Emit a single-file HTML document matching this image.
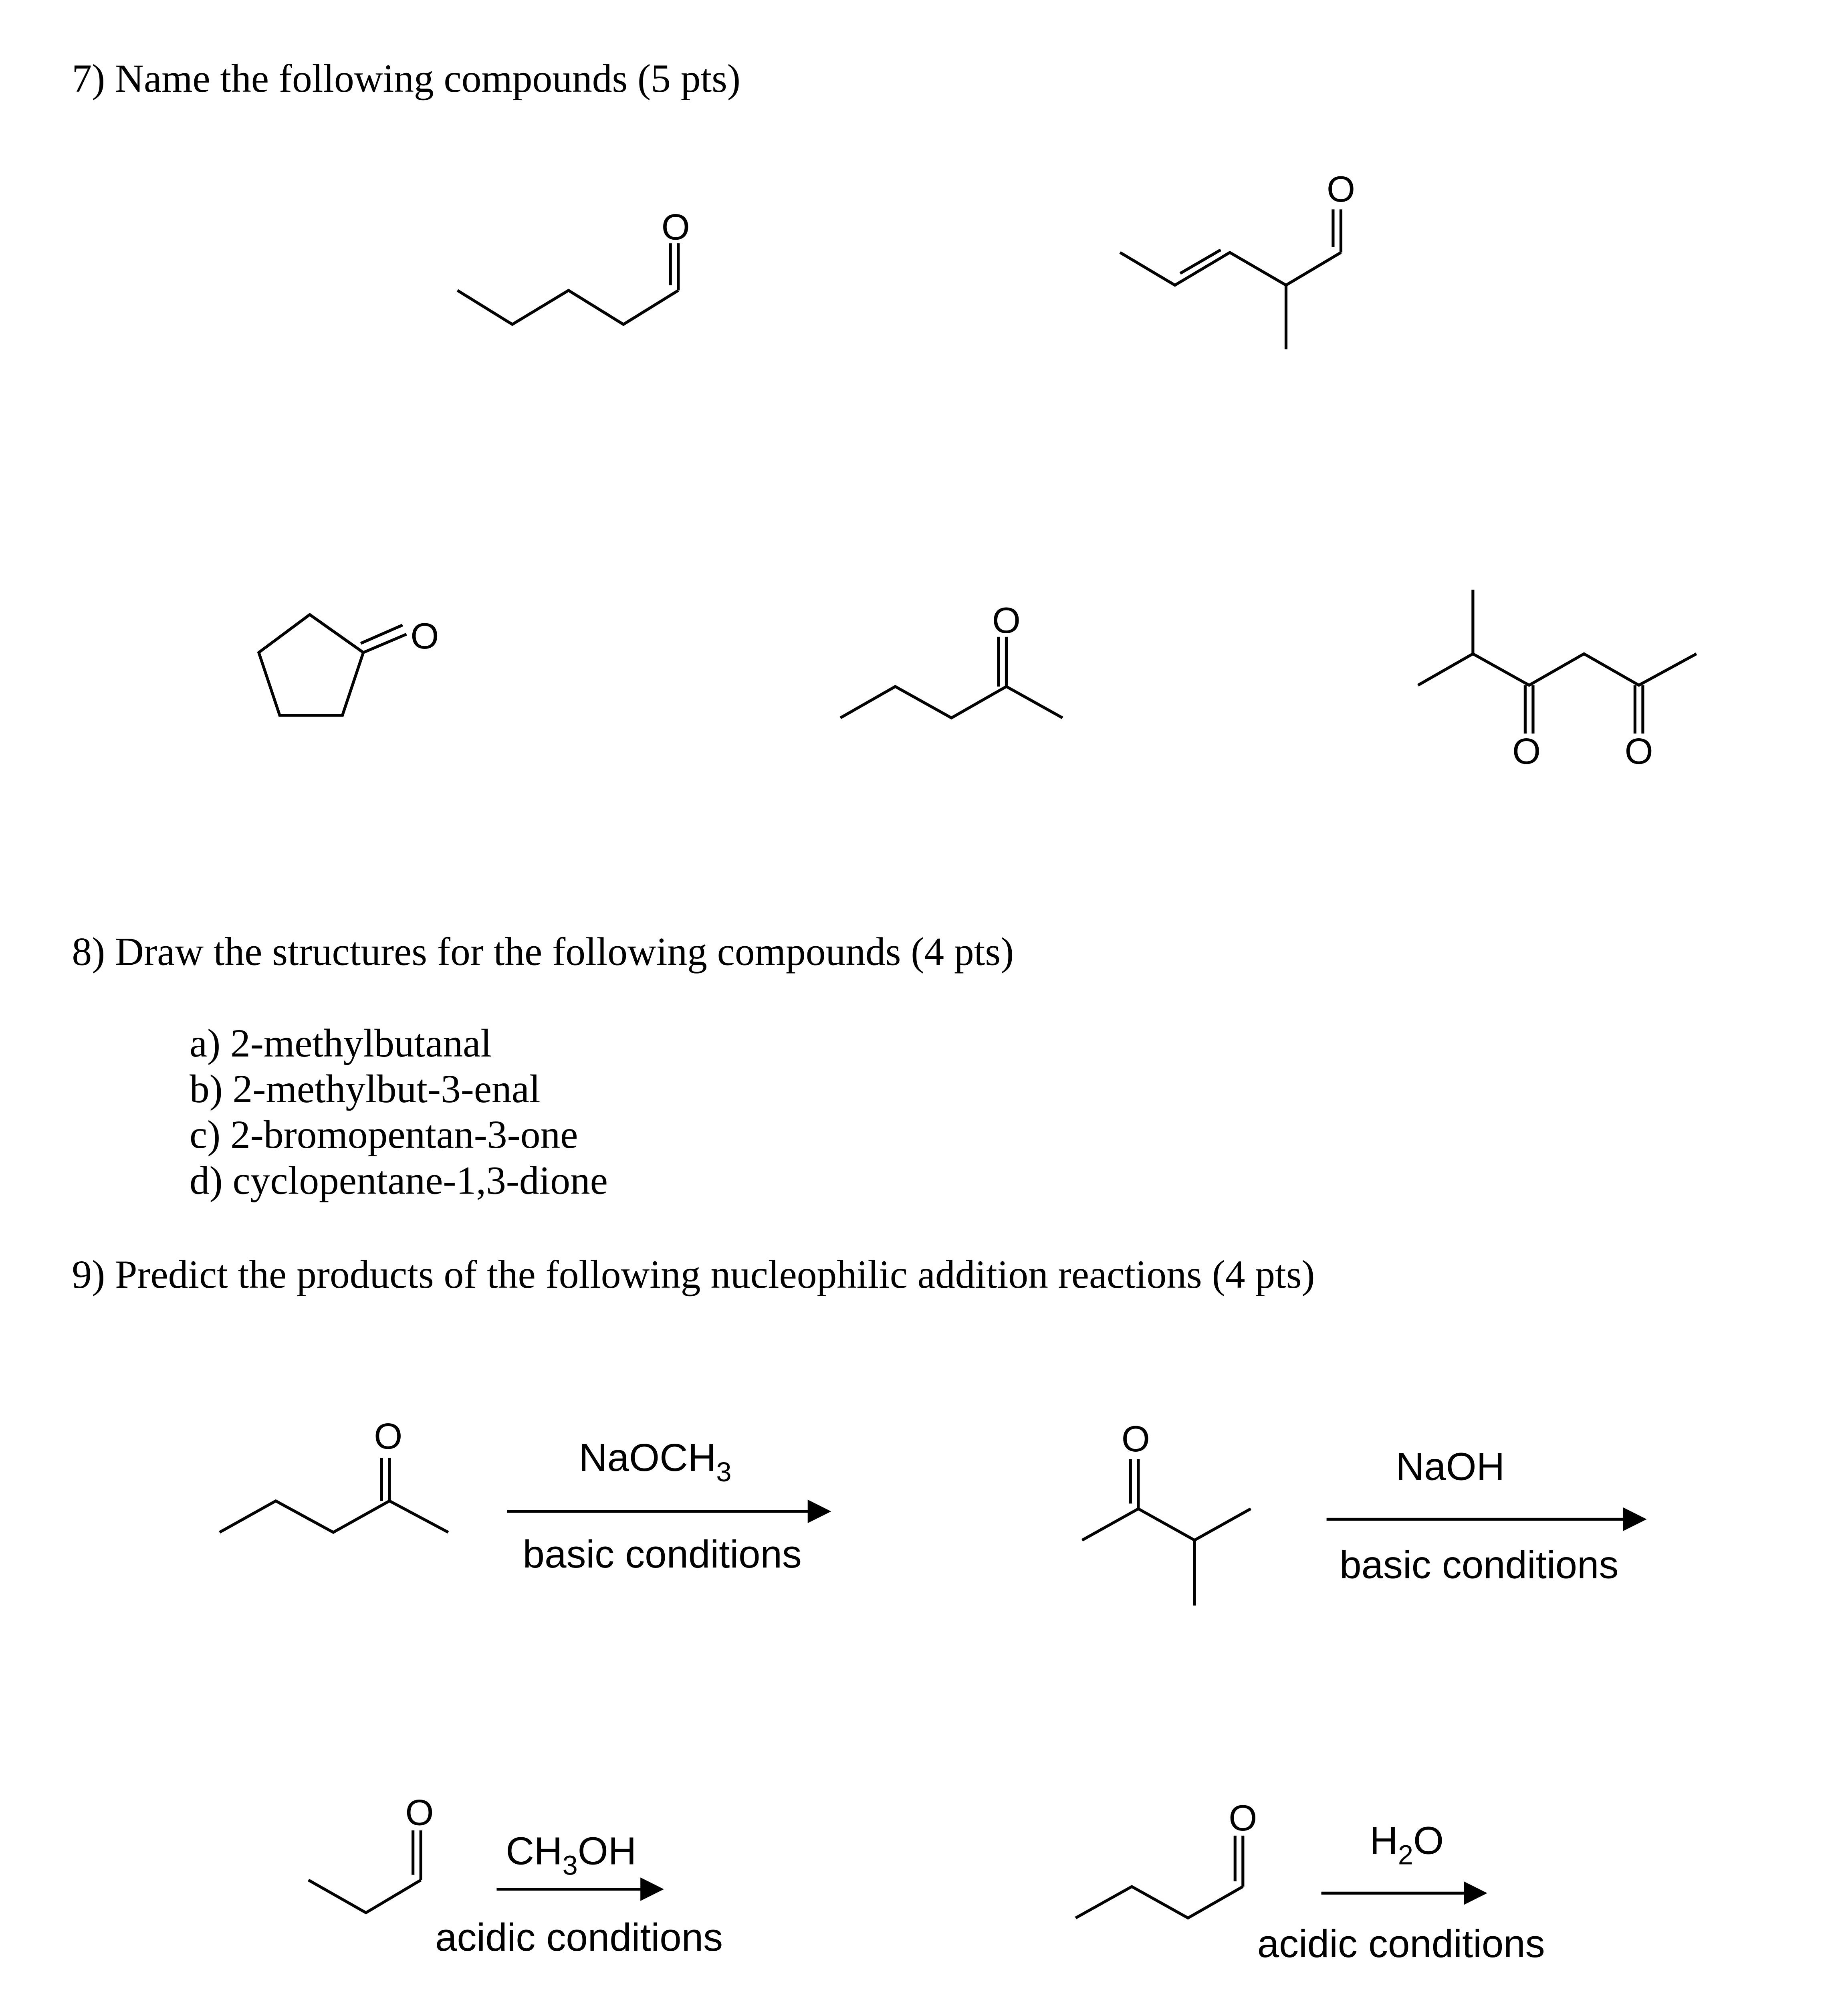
<!DOCTYPE html>
<html><head><meta charset="utf-8"><style>
html,body{margin:0;padding:0;background:#fff;overflow:hidden;width:4612px;height:5125px;}
svg{display:block;}
.t{font-family:"Liberation Serif",serif;font-size:30.5px;fill:#000;}
.a{font-family:"Liberation Sans",sans-serif;font-size:30px;fill:#000;}
.o{font-family:"Liberation Sans",sans-serif;font-size:28px;fill:#000;text-anchor:middle;}
</style></head><body>
<svg width="4612" height="5125" viewBox="0 0 1414 1571" xmlns="http://www.w3.org/2000/svg">
<rect width="1414" height="1571" fill="#fff"/>
<g fill="none" stroke="#000" stroke-width="2.2" stroke-linejoin="miter">
<polyline points="350,222 392,248 435,222 477,248 519,222"/>
<line x1="519" y1="222" x2="519" y2="186"/><line x1="513" y1="218" x2="513" y2="186"/>
<polyline points="857,193 899,218 941,193 984,218 1026,193"/>
<line x1="903" y1="209" x2="934" y2="191"/>
<line x1="1026" y1="193" x2="1026" y2="160"/><line x1="1020" y1="189" x2="1020" y2="160"/>
<line x1="984" y1="218" x2="984" y2="267"/>
<polygon points="237,470 278,499 262,547 214,547 198,499"/>
<line x1="278" y1="499" x2="311" y2="485"/><line x1="276" y1="492" x2="308" y2="478"/>
<polyline points="643,549 685,525 728,549 770,525 813,549"/>
<line x1="770" y1="525" x2="770" y2="487"/><line x1="764" y1="525" x2="764" y2="487"/>
<line x1="1127" y1="451" x2="1127" y2="500"/>
<polyline points="1085,524 1127,500 1170,524 1212,500 1254,524 1298,500"/>
<line x1="1167" y1="524" x2="1167" y2="561"/><line x1="1173" y1="524" x2="1173" y2="561"/>
<line x1="1251" y1="524" x2="1251" y2="561"/><line x1="1257" y1="524" x2="1257" y2="561"/>
<polyline points="168,1172 211,1148 255,1172 298,1148 343,1172"/>
<line x1="298" y1="1148" x2="298" y2="1115"/><line x1="292" y1="1148" x2="292" y2="1115"/>
<line x1="388" y1="1156" x2="620" y2="1156"/>
<polyline points="828,1178 871,1154 914,1178 957,1154"/>
<line x1="914" y1="1178" x2="914" y2="1228"/>
<line x1="871" y1="1154" x2="871" y2="1116"/><line x1="865" y1="1150" x2="865" y2="1116"/>
<line x1="1015" y1="1162" x2="1244" y2="1162"/>
<polyline points="236,1438 280,1463 322,1438"/>
<line x1="322" y1="1438" x2="322" y2="1400"/><line x1="316" y1="1434" x2="316" y2="1400"/>
<line x1="380" y1="1445" x2="492" y2="1445"/>
<polyline points="823,1467 866,1443 909,1467 951,1443"/>
<line x1="951" y1="1443" x2="951" y2="1404"/><line x1="945" y1="1439" x2="945" y2="1404"/>
<line x1="1011" y1="1448" x2="1122" y2="1448"/>
</g>
<g fill="#000">
<polygon points="618,1147 636,1156 618,1165"/>
<polygon points="1242,1153 1260,1162 1242,1171"/>
<polygon points="490,1436 508,1445 490,1454"/>
<polygon points="1120,1439 1138,1448 1120,1457"/>
</g>
<text class="t" x="55" y="70">7) Name the following compounds (5 pts)</text>
<text class="o" x="517" y="183">O</text>
<text class="o" x="1026" y="154">O</text>
<text class="o" x="325" y="496">O</text>
<text class="o" x="770" y="484">O</text>
<text class="o" x="1168" y="584">O</text>
<text class="o" x="1254" y="584">O</text>
<text class="t" x="55" y="738">8) Draw the structures for the following compounds (4 pts)</text>
<text class="t" x="145" y="808">a) 2-methylbutanal</text>
<text class="t" x="145" y="843">b) 2-methylbut-3-enal</text>
<text class="t" x="145" y="878">c) 2-bromopentan-3-one</text>
<text class="t" x="145" y="913">d) cyclopentane-1,3-dione</text>
<text class="t" x="55" y="985">9) Predict the products of the following nucleophilic addition reactions (4 pts)</text>
<text class="o" x="297" y="1108">O</text>
<text class="o" x="869" y="1110">O</text>
<text class="o" x="321" y="1396">O</text>
<text class="o" x="951" y="1400">O</text>
<text class="a" x="443" y="1125">NaOCH<tspan font-size="21" dy="8">3</tspan></text>
<text class="a" x="400" y="1199">basic conditions</text>
<text class="a" x="1068" y="1132">NaOH</text>
<text class="a" x="1025" y="1207">basic conditions</text>
<text class="a" x="387" y="1426">CH<tspan font-size="21" dy="8">3</tspan><tspan dy="-8">OH</tspan></text>
<text class="a" x="333" y="1492">acidic conditions</text>
<text class="a" x="1048" y="1418">H<tspan font-size="21" dy="8">2</tspan><tspan dy="-8">O</tspan></text>
<text class="a" x="962" y="1497">acidic conditions</text>
</svg>
</body></html>
